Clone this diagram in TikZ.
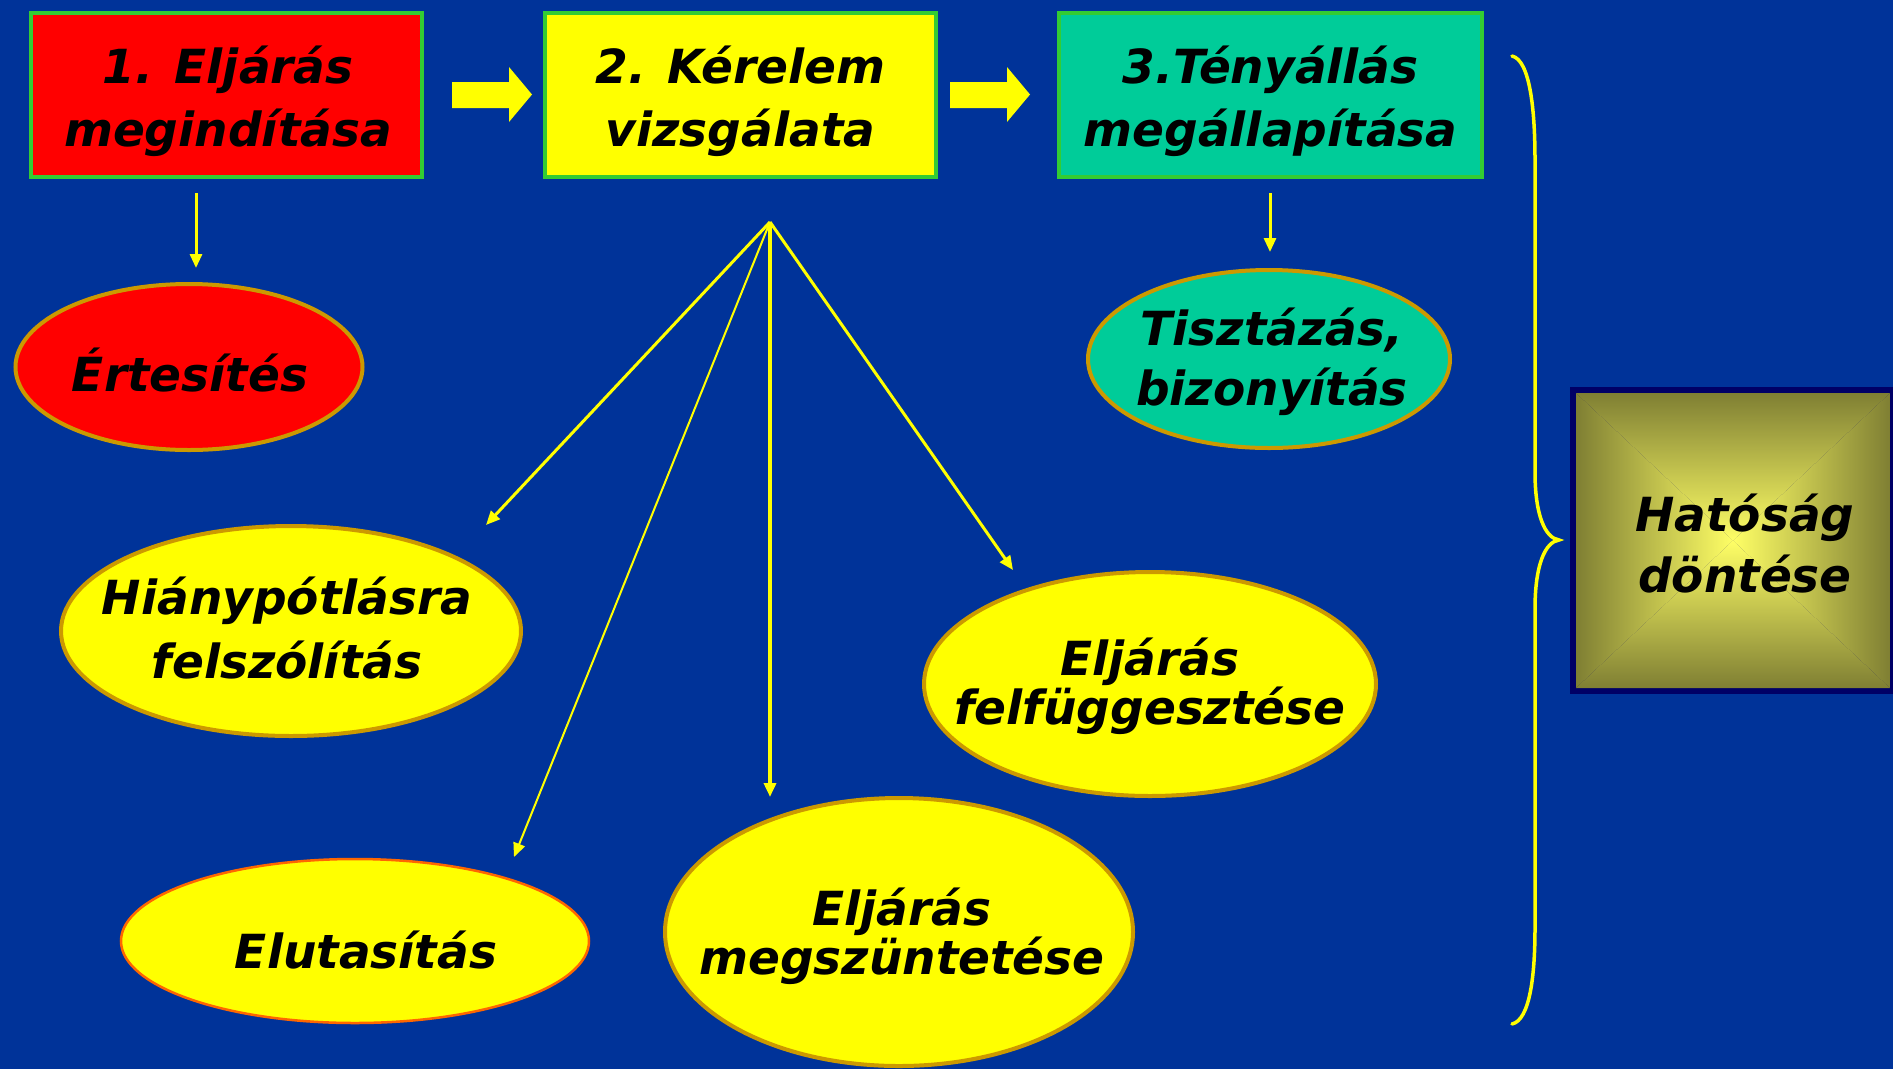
\documentclass[tikz,border=0pt]{standalone}
\usepackage{fontspec}
\setmainfont{DejaVu Sans}
\usetikzlibrary{arrows.meta,shapes.geometric}
\definecolor{bg}{HTML}{003399}
\definecolor{boxgreen}{HTML}{33CC33}
\definecolor{teal3}{HTML}{00CC99}
\definecolor{ellgold}{HTML}{CC9900}
\definecolor{ellorange}{HTML}{FF6600}
\definecolor{navyb}{HTML}{000066}
\definecolor{oliveedge}{HTML}{7F7F33}
\definecolor{lightyel}{HTML}{FFFF66}
\definecolor{pyel}{HTML}{FFFF00}
\definecolor{pred}{HTML}{FF0000}
\begin{document}
\begin{tikzpicture}[x=1pt,y=-1pt,
  txt/.style={font=\fontsize{47}{#1}\selectfont\bfseries\itshape, align=center, text=black, inner sep=0pt},
  txt/.default=63,
  stepbox/.style={draw=boxgreen, line width=4pt, inner sep=0pt, minimum width=391pt, minimum height=164pt},
  ell/.style={ellipse, draw=ellgold, line width=4pt, fill=pyel, inner sep=0pt},
  thinarrow/.style={draw=pyel, line width=3pt, -{Triangle[length=14pt,width=12pt]}},
  blockarrow/.style={fill=pyel},
]
\useasboundingbox (0,0) rectangle (1893,1069);
\fill[bg] (0,0) rectangle (1893,1069);

% top boxes
\node[stepbox, fill=pred] (b1) at (226.5,95) {};
\node[txt] (t1) at (228,101) {1. Eljárás\\megindítása};
\node[stepbox, fill=pyel] (b2) at (740.5,95) {};
\node[txt] (t2) at (740.5,101) {2. Kérelem\\vizsgálata};
\node[stepbox, fill=teal3, minimum width=423pt] (b3) at (1270.5,95) {};
\node[txt] (t3) at (1270.5,101) {3.Tényállás\\megállapítása};

% block arrows
\fill[blockarrow] (452,82) -- (509,82) -- (509,67) -- (532,94.5) -- (509,122) -- (509,108) -- (452,108) -- cycle;
\fill[blockarrow] (950,82) -- (1007,82) -- (1007,67) -- (1030,94.5) -- (1007,122) -- (1007,108) -- (950,108) -- cycle;

% ellipses
\node[ell, fill=pred, minimum width=347pt, minimum height=166pt] (ert) at (189,367) {};
\node[txt] (ertt) at (190,370) {Értesítés};
\node[ell, minimum width=460pt, minimum height=210pt] (hia) at (291,631) {};
\node[txt=64] (hiat) at (287,628) {Hiánypótlásra\\felszólítás};
\node[ell, draw=ellorange, line width=2.5pt, minimum width=468pt, minimum height=164pt] (elu) at (355,941) {};
\node[txt] (elut) at (366,950) {Elutasítás};
\node[ell, minimum width=468pt, minimum height=268pt] (msz) at (899,932) {};
\node[txt=43] (mszt) at (902,936) {Eljárás\\megszüntetése};
\node[ell, minimum width=452pt, minimum height=224pt] (ffg) at (1150,684) {};
\node[txt=49] (ffgt) at (1150,686) {Eljárás\\felfüggesztése};
\node[ell, fill=teal3, minimum width=362pt, minimum height=178pt] (tis) at (1269,359) {};
\node[txt=60] (tist) at (1272,362) {Tisztázás,\\bizonyítás};

% small arrows
\coordinate (s1) at (196,193);
\coordinate (e1) at (196,268);
\draw[thinarrow] (s1) -- (e1);
\coordinate (s3) at (1270,193);
\coordinate (e3) at (1270,252);
\draw[thinarrow] (s3) -- (e3);

% fan
\coordinate (fan) at (770,222);
\coordinate (tH) at (486,525);
\coordinate (tE) at (514,857);
\coordinate (tM) at (770,797);
\coordinate (tF) at (1013,570);
\draw[thinarrow] (fan) -- (tH);
\draw[thinarrow, line width=2pt] (fan) -- (tE);
\draw[thinarrow, line width=3.5pt] (fan) -- (tM);
\draw[thinarrow] (fan) -- (tF);

% brace
\draw[pyel, line width=3.5pt, line cap=round]
  (1512,56) .. controls (1530,60) and (1535,110) .. (1535,160)
  -- (1535,472) .. controls (1535,515) and (1545,538) .. (1559,540)
  .. controls (1545,542) and (1535,565) .. (1535,609)
  -- (1535,928) .. controls (1535,975) and (1530,1020) .. (1512,1024);

% Hatosag box
\fill[navyb] (1570,387) rectangle (1896,694);
\coordinate (A) at (1576,393);
\coordinate (B) at (1890,393);
\coordinate (C) at (1890,688);
\coordinate (D) at (1576,688);
\coordinate (M) at (1733,540.5);
\begin{scope}
  \clip (A) -- (B) -- (M) -- cycle;
  \shade[top color=oliveedge, bottom color=lightyel] (1576,393) rectangle (1890,541);
\end{scope}
\begin{scope}
  \clip (D) -- (C) -- (M) -- cycle;
  \shade[top color=lightyel, bottom color=oliveedge] (1576,540) rectangle (1890,688);
\end{scope}
\begin{scope}
  \clip (A) -- (D) -- (M) -- cycle;
  \shade[left color=oliveedge, right color=lightyel] (1576,393) rectangle (1734,688);
\end{scope}
\begin{scope}
  \clip (B) -- (C) -- (M) -- cycle;
  \shade[left color=lightyel, right color=oliveedge] (1732,393) rectangle (1890,688);
\end{scope}
\node[txt=61] (hat) at (1745,544) {Hatóság\\döntése};
\end{tikzpicture}
\end{document}
